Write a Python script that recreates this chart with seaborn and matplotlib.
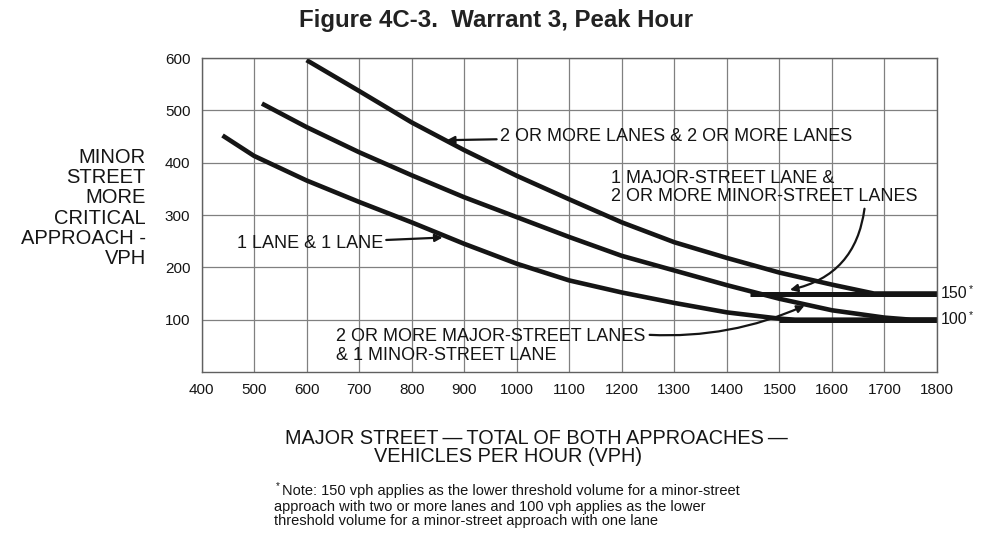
import numpy as np
import pandas as pd
import seaborn as sns
import matplotlib.pyplot as plt

# curve readings (major street vph -> minor street vph)
two_two_major = [600, 700, 800, 900, 1000, 1100, 1200, 1300, 1400, 1500, 1600, 1680, 1800]
two_two_minor = [596, 537, 477, 424, 375, 330, 286, 248, 218, 190, 167, 150, 150]

two_one_major = [515, 600, 700, 800, 900, 1000, 1100, 1200, 1300, 1400, 1500, 1600, 1700, 1750, 1800]
two_one_minor = [513, 468, 420, 376, 334, 296, 258, 222, 194, 166, 140, 118, 104, 100, 100]

one_one_major = [440, 500, 600, 700, 800, 900, 1000, 1100, 1200, 1300, 1400, 1500, 1530, 1800]
one_one_minor = [452, 413, 366, 325, 286, 245, 207, 175, 152, 132, 114, 102, 100, 100]

# lower thresholds
floor_150_major = [1445, 1800]
floor_150_minor = [150, 150]
floor_100_major = [1500, 1800]
floor_100_minor = [100, 100]

x_ticks = list(range(400, 1900, 100))
y_ticks = [100, 200, 300, 400, 500, 600]

sns.set_style("white")
plt.rcParams['font.family'] = ['Liberation Sans', 'DejaVu Sans']

fig = plt.figure(figsize=(10, 5.5), dpi=100)
ax = fig.add_axes([0.2015, 0.3236, 0.7355, 0.5709])

ink = '#151515'
curves = [
    (two_two_major, two_two_minor),
    (two_one_major, two_one_minor),
    (one_one_major, one_one_minor),
]
for xs, ys in curves:
    sns.lineplot(x=xs, y=ys, ax=ax, color=ink, linewidth=3.3, solid_capstyle='butt')

for xs, ys in [(floor_150_major, floor_150_minor), (floor_100_major, floor_100_minor)]:
    sns.lineplot(x=xs, y=ys, ax=ax, color=ink, linewidth=3.6, solid_capstyle='butt')

ax.set_xlim(400, 1800)
ax.set_ylim(0, 600)
ax.set_xticks(x_ticks)
ax.set_yticks(y_ticks)
ax.set_xticklabels([str(v) for v in x_ticks], fontsize=11)
ax.set_yticklabels([str(v) for v in y_ticks], fontsize=11)
ax.tick_params(length=0, pad=8, colors=ink)
ax.grid(True, color='#808080', linewidth=0.9)
for s in ax.spines.values():
    s.set_color('#606060')
    s.set_linewidth(1.0)
ax.set_xlabel('')
ax.set_ylabel('')

# curve labels and leaders
arrow = dict(arrowstyle='-|>', color=ink, lw=1.6, mutation_scale=11, shrinkA=0, shrinkB=0)
ax.annotate('2 OR MORE LANES & 2 OR MORE LANES', xy=(867, 443), xytext=(968, 451),
            fontsize=13, va='center', ha='left', color=ink, arrowprops=arrow)
ax.annotate('1 LANE & 1 LANE', xy=(859, 257), xytext=(467, 246),
            fontsize=13, va='center', ha='left', color=ink, arrowprops=arrow)
ax.text(1179, 352, '1 MAJOR-STREET LANE &\n2 OR MORE MINOR-STREET LANES',
        fontsize=13, va='center', ha='left', color=ink, linespacing=1.1)
ax.annotate('', xy=(1520, 157), xytext=(1662, 312),
            arrowprops=dict(arrow, connectionstyle='arc3,rad=-0.35'))
ax.text(656, 50, '2 OR MORE MAJOR-STREET LANES\n& 1 MINOR-STREET LANE',
        fontsize=13, va='center', ha='left', color=ink, linespacing=1.1)
ax.annotate('', xy=(1548, 127), xytext=(1253, 71),
            arrowprops=dict(arrow, connectionstyle='arc3,rad=0.12'))

for val in [150, 100]:
    ax.text(1808, val, str(val), fontsize=11.5, va='center', ha='left', color=ink, clip_on=False)
    ax.text(1808 + 53, val + 9, '*', fontsize=7.5, va='center', ha='left', color=ink, clip_on=False)

fig.text(0.496, 0.962, 'Figure 4C-3.  Warrant 3, Peak Hour', fontsize=17.3, fontweight='bold',
         ha='center', va='center', color='#222222')

fig.text(0.146, 1 - 208 / 550, 'MINOR\nSTREET\nMORE\nCRITICAL\nAPPROACH -\nVPH',
         fontsize=14.5, ha='right', va='center', multialignment='right', linespacing=1.08, color=ink)

fig.text(0.536, 1 - 438 / 550, 'MAJOR STREET\u2009\u2014\u2009TOTAL OF BOTH APPROACHES\u2009\u2014',
         fontsize=14.3, ha='center', va='center', color=ink)
fig.text(0.508, 1 - 457 / 550, 'VEHICLES PER HOUR (VPH)',
         fontsize=14.3, ha='center', va='center', color=ink)

note_first = 'Note: 150 vph applies as the lower threshold volume for a minor-street'
note_rest = ('approach with two or more lanes and 100 vph applies as the lower\n'
             'threshold volume for a minor-street approach with one lane')
fig.text(0.282, 1 - 491 / 550, note_first, fontsize=10.5, ha='left', va='center', color=ink)
fig.text(0.274, 1 - 514 / 550, note_rest, fontsize=10.5, ha='left', va='center',
         linespacing=1.08, color=ink)
fig.text(0.2755, 1 - 486 / 550, '*', fontsize=7, ha='left', va='center', color=ink)

fig.savefig('out.png', dpi=100)
